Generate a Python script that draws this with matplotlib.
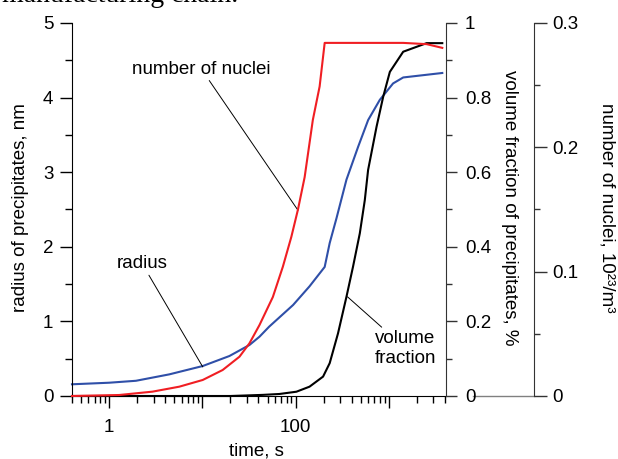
import numpy as np
import matplotlib
matplotlib.use('Agg')
import matplotlib.pyplot as plt
from matplotlib.ticker import LogLocator, FuncFormatter, MultipleLocator, NullFormatter
from matplotlib.lines import Line2D

plt.rcParams['font.family'] = ['Liberation Sans', 'DejaVu Sans']
plt.rcParams['font.size'] = 13.5

# radius of precipitates, nm (left axis)
t_radius = [0.4, 1, 1.94, 4.42, 10.1, 19.5, 32, 41, 52, 94, 141, 205, 232, 274, 351, 468, 600, 800, 1110, 1425, 3740]
radius = [0.157, 0.178, 0.204, 0.29, 0.402, 0.536, 0.684, 0.795, 0.929, 1.22, 1.47, 1.73, 2.05, 2.38, 2.90, 3.34,
          3.70, 3.97, 4.19, 4.27, 4.33]

# volume fraction of precipitates, %
t_vf = [0.4, 20, 44.5, 67, 102, 141, 197, 232, 285, 351, 413, 488, 552, 599, 738, 869, 1025, 1425, 2540, 3740]
vf = [0, 0.0, 0.003, 0.0054, 0.0115, 0.025, 0.052, 0.088, 0.168, 0.266, 0.347, 0.436, 0.525, 0.606,
      0.722, 0.802, 0.869, 0.923, 0.946, 0.946]

# number of nuclei, 10^23/m^3
t_nuc = [0.4, 1.28, 2.92, 5.66, 10.1, 16.5, 25, 32, 41, 57, 73, 90, 106, 125, 153, 181, 205, 1425, 2540, 3740]
nuc = [0, 0.0008, 0.0035, 0.0075, 0.0129, 0.0209, 0.0316, 0.0424, 0.0571, 0.0796, 0.104, 0.128, 0.150, 0.176,
       0.222, 0.249, 0.284, 0.284, 0.283, 0.280]

fig = plt.figure(figsize=(6.18, 4.59), dpi=100)
ax = fig.add_axes([72/618, 1-396/459, 374/618, 373/459])
ax2 = ax.twinx()
ax3 = ax.twinx()
ax3.spines['right'].set_position(('axes', 462/374))

ax.plot(t_radius, radius, color='#2f4fa8', lw=1.5, clip_on=False)
ax2.plot(t_vf, vf, color='k', lw=1.5, clip_on=False)
ax3.plot(t_nuc, nuc, color='#f01e23', lw=1.5, clip_on=False)

ax.set_xscale('log')
ax.set_xlim(0.4, 4100)
ax.set_ylim(0, 5)
ax2.set_ylim(0, 1)
ax3.set_ylim(0, 0.3)

for a in (ax, ax2, ax3):
    a.spines['top'].set_visible(False)
ax.spines['right'].set_visible(False)
for a in (ax2, ax3):
    a.spines['left'].set_visible(False)
    a.spines['bottom'].set_visible(False)
    a.spines['right'].set_color('#333333')

ax.xaxis.set_major_locator(LogLocator(base=10, numticks=20))
ax.xaxis.set_minor_locator(LogLocator(base=10, subs=np.arange(2, 10), numticks=20))
ax.xaxis.set_major_formatter(FuncFormatter(lambda v, p: {1: '1', 100: '100'}.get(int(round(v)), '') if v >= 1 else ''))
ax.xaxis.set_minor_formatter(NullFormatter())
ax.yaxis.set_major_locator(MultipleLocator(1))
ax.yaxis.set_minor_locator(MultipleLocator(0.5))
ax2.yaxis.set_major_locator(MultipleLocator(0.2))
ax2.yaxis.set_minor_locator(MultipleLocator(0.1))
ax2.yaxis.set_major_formatter(FuncFormatter(lambda v, p: '%g' % round(v, 2)))
ax3.yaxis.set_major_locator(MultipleLocator(0.1))
ax3.yaxis.set_minor_locator(MultipleLocator(0.05))
ax3.yaxis.set_major_formatter(FuncFormatter(lambda v, p: '%g' % round(v, 2)))

ax.tick_params(axis='y', which='major', length=8.5, width=1, pad=5)
ax.tick_params(axis='y', which='minor', length=5, width=1)
ax.tick_params(axis='x', which='major', length=8.5, width=1, pad=8)
ax.tick_params(axis='x', which='minor', length=5, width=1)
ax2.tick_params(axis='y', which='major', length=8, width=1, pad=5.5, color='#333333')
ax2.tick_params(axis='y', which='minor', length=4.5, width=1, color='#333333')
ax3.tick_params(axis='y', which='major', length=9, width=1, pad=4, color='#333333')
ax3.tick_params(axis='y', which='minor', length=4.5, width=1, color='#333333')

ax.set_ylabel('radius of precipitates, nm', va='center')
ax.yaxis.set_label_coords(-0.139, 0.504)
ax.set_xlabel('time, s', va='center')
ax.xaxis.set_label_coords(0.492, -0.147)
ax2.set_ylabel('volume fraction of precipitates, %', rotation=270, va='center')
ax2.yaxis.set_label_coords(1.171, 0.504)
ax3.set_ylabel('number of nuclei, 10²³/m³', rotation=270, va='center')
ax3.yaxis.set_label_coords(1.430, 0.504)

# grey baseline running to the outer axis
ax.add_line(Line2D([1.072, 1.235], [0, 0], transform=ax.transAxes, color='#808080', lw=1, clip_on=False))

arrow = dict(arrowstyle='-', color='k', lw=0.7, shrinkA=0, shrinkB=0)
ax.annotate('number of nuclei', xy=(106, 2.49), xytext=(9.8, 4.38), ha='center', va='center', arrowprops=arrow)
ax.annotate('radius', xy=(10.1, 0.39), xytext=(2.27, 1.77), ha='center', va='center', arrowprops=arrow)
ax.annotate('volume\nfraction', xy=(360, 1.33), xytext=(1504, 0.64), ha='center', va='center',
            multialignment='left', arrowprops=arrow)

fig.text(2/618, 1-2/459, 'manufacturing chain.', family=['Liberation Serif'], fontsize=20,
         ha='left', va='baseline')

plt.savefig('out.png', dpi=100)
